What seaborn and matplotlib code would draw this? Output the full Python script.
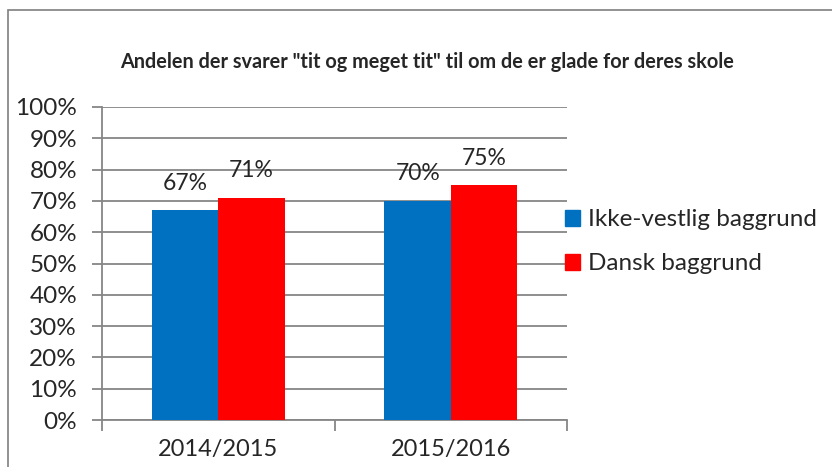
import matplotlib
matplotlib.use("Agg")
import matplotlib.pyplot as plt
import matplotlib.patches as mpatches
from matplotlib.ticker import FixedLocator, PercentFormatter
import seaborn as sns
import pandas as pd

# data
years   = ["2014/2015", "2015/2016"]
groups  = ["Ikke-vestlig baggrund", "Dansk baggrund"]
ikke    = [0.67, 0.70]
dansk   = [0.71, 0.75]
colors  = ["#0070C0", "#FF0000"]
title   = 'Andelen der svarer "tit og meget tit" til om de er glade for deres skole'

df = pd.DataFrame({
    "year":  years * 2,
    "group": [groups[0]] * len(years) + [groups[1]] * len(years),
    "value": ikke + dansk,
})

sns.set_theme(style="white")
plt.rcParams["font.family"] = ["Lato", "DejaVu Sans"]

GRAY = "#868686"

fig = plt.figure(figsize=(8.32, 4.67), dpi=100)
ax = fig.add_axes([0.1226, 0.1006, 0.5589, 0.6703])

sns.barplot(data=df, x="year", y="value", hue="group", palette=colors,
            width=0.57, saturation=1, ax=ax, legend=False, zorder=3)
for p in ax.patches:
    p.set_edgecolor("none")

ax.set_xlim(-0.5, 1.5)
ax.set_ylim(0, 1.0)
ax.set_xlabel("")
ax.set_ylabel("")

# y axis
ax.yaxis.set_major_locator(FixedLocator([i / 10 for i in range(11)]))
ax.yaxis.set_major_formatter(PercentFormatter(1.0, decimals=0))
ax.grid(axis="y", color=GRAY, linewidth=1.3, zorder=0)
ax.tick_params(axis="y", length=7, width=1.3, color=GRAY, labelsize=17.5,
               pad=11, left=True)

# x axis: labels at centres, ticks at category borders
ax.set_xticks([0, 1])
ax.set_xticklabels(years)
ax.tick_params(axis="x", which="major", length=0, labelsize=17, pad=14)
ax.set_xticks([-0.5, 0.5, 1.5], minor=True)
ax.tick_params(axis="x", which="minor", length=8, width=1.3, color=GRAY,
               bottom=True)

for s in ["top", "right"]:
    ax.spines[s].set_visible(False)
for s in ["left", "bottom"]:
    ax.spines[s].set_color(GRAY)
    ax.spines[s].set_linewidth(1.3)

for c in ax.containers:
    ax.bar_label(c, labels=[f"{v * 100:.0f}%" for v in c.datavalues],
                 padding=12, fontsize=16.5)

fig.text(0.513, 0.867, title, ha="center", va="center",
         fontsize=14.3, fontweight="bold")

handles = [mpatches.Patch(color=c, label=g) for c, g in zip(colors, groups)]
fig.legend(handles=handles, loc="center left",
           bbox_to_anchor=(0.667, 0.482), frameon=False, fontsize=17.5,
           handlelength=0.65, handleheight=0.65, handletextpad=0.3,
           labelspacing=0.95, borderaxespad=0)

# chart border (cropped on right and bottom)
fig.patches.append(mpatches.Rectangle((8 / 832, -0.2), 1.2, 1.2 - 10 / 467,
                                      transform=fig.transFigure, fill=False,
                                      edgecolor="#7f7f7f", linewidth=1.2))

fig.savefig("out.png", dpi=100)
